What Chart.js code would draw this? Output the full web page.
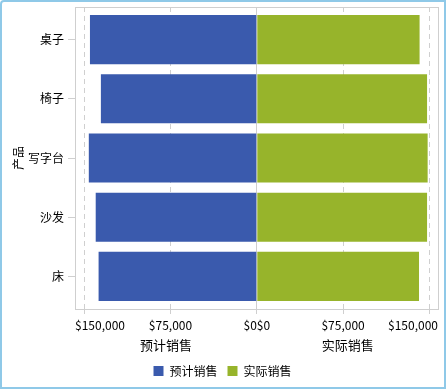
<!DOCTYPE html>
<html lang="zh">
<head>
<meta charset="utf-8">
<title>产品销售</title>
<script src="https://cdn.jsdelivr.net/npm/chart.js@4"></script>
<style>
  html, body { margin: 0; padding: 0; background: #fff; }
  #frame {
    width: 446px;
    height: 389px;
    box-sizing: border-box;
    border: 2px solid #8fc9e8;
    border-radius: 4px 0 0 0;
    background: #fff;
  }
  canvas { display: block; }
</style>
</head>
<body>
<div id="frame">
  <canvas id="chart" width="442" height="385"></canvas>
</div>
<script>
// Dados
const categories = ["桌子", "椅子", "写字台", "沙发", "床"];
const predicted = [145000, 135500, 146000, 140000, 137500]; // 预计销售
const actual = [141500, 148000, 148500, 148000, 141000]; // 实际销售
const tickValues = [-150000, -75000, 0, 75000, 150000];
const halfTitles = ["预计销售", "实际销售"];
const seriesNames = ["预计销售", "实际销售"];

const axisMin = -158000;
const axisMax = 157500;
const font = "'Noto Sans CJK SC', 'Noto Sans', sans-serif";
const gridGray = "#cfcfcf";

function money(v) {
  if (v === 0) return "$0$0";
  return "$" + Math.abs(v).toLocaleString("en-US");
}

// valor de tick mais proximo (rotulos das pontas ficam nas bordas)
function nearestTick(v) {
  return tickValues.reduce((a, b) => (Math.abs(b - v) < Math.abs(a - v) ? b : a));
}

// eixo sem padding lateral, altura fixa
function fixHeight(h) {
  return (s) => {
    s.height = h;
    s.paddingLeft = 0;
    s.paddingRight = 0;
  };
}

// Moldura da área do gráfico
const plotFrame = {
  id: "plotFrame",
  afterLayout(chart) {
    // pequena folga em cima/embaixo das categorias
    const y = chart.scales.y;
    y._startPixel += 3;
    y._endPixel -= 3;
    y._length -= 6;
  },
  beforeDatasetsDraw(chart) {
    const { ctx, chartArea: a } = chart;
    ctx.save();
    ctx.strokeStyle = gridGray;
    ctx.lineWidth = 1;
    ctx.strokeRect(
      Math.round(a.left) + 0.5,
      Math.round(a.top) + 0.5,
      Math.round(a.right - a.left),
      Math.round(a.bottom - a.top)
    );
    ctx.restore();
  },
};

new Chart(document.getElementById("chart"), {
  type: "bar",
  data: {
    labels: categories,
    datasets: [
      {
        label: seriesNames[0],
        data: predicted.map((v) => -v),
        backgroundColor: "#3a5aad",
        borderWidth: 0,
        xAxisID: "x",
      },
      {
        label: seriesNames[1],
        data: actual,
        backgroundColor: "#97b42b",
        borderWidth: 0,
        xAxisID: "x",
      },
    ],
  },
  options: {
    indexAxis: "y",
    responsive: false,
    animation: false,
    devicePixelRatio: 1,
    layout: { padding: { left: 5, top: 5, right: 6, bottom: 0 } },
    datasets: { bar: { barPercentage: 1, categoryPercentage: 0.83 } },
    plugins: {
      tooltip: { enabled: false },
      legend: {
        position: "bottom",
        labels: {
          boxWidth: 10,
          boxHeight: 10,
          padding: 10,
          color: "#000",
          font: { family: font, size: 12 },
        },
      },
    },
    scales: {
      y: {
        type: "category",
        stacked: true,
        afterFit: (s) => {
          s.width = 68;
          s.paddingTop = 0;
          s.paddingBottom = 0;
        },
        title: {
          display: true,
          text: "产品",
          color: "#000",
          font: { family: font, size: 12 },
        },
        ticks: { color: "#000", padding: 4, font: { family: font, size: 12 } },
        grid: {
          offset: false,
          drawOnChartArea: false,
          tickLength: 7,
          tickColor: gridGray,
        },
        border: { color: gridGray },
      },
      // grade tracejada + marcas dos ticks
      x: {
        type: "linear",
        stacked: true,
        min: axisMin,
        max: axisMax,
        afterBuildTicks: (s) => (s.ticks = tickValues.map((v) => ({ value: v }))),
        afterFit: fixHeight(0),
        ticks: { display: false },
        grid: {
          color: (c) => (c.tick && c.tick.value === 0 ? "rgba(0,0,0,0)" : gridGray),
          tickColor: gridGray,
          tickLength: 5,
        },
        border: { color: gridGray, dash: [5, 4] },
      },
      // rotulos em dolar
      xl: {
        type: "linear",
        position: "bottom",
        min: axisMin,
        max: axisMax,
        afterBuildTicks: (s) =>
          (s.ticks = [axisMin, -75000, 0, 75000, axisMax].map((v) => ({ value: v }))),
        afterFit: fixHeight(23),
        ticks: {
          align: "inner",
          padding: 9,
          color: "#000",
          maxRotation: 0,
          autoSkip: false,
          font: { family: font, size: 12 },
          callback: (v) => money(nearestTick(v)),
        },
        grid: { display: false, drawTicks: false },
        border: { display: false },
      },
      // titulos das duas metades
      xt: {
        type: "linear",
        position: "bottom",
        min: axisMin,
        max: axisMax,
        afterBuildTicks: (s) => (s.ticks = [{ value: -79000 }, { value: 79000 }]),
        afterFit: fixHeight(23),
        ticks: {
          padding: 5,
          color: "#000",
          maxRotation: 0,
          autoSkip: false,
          font: { family: font, size: 13 },
          callback: (v) => (v < 0 ? halfTitles[0] : halfTitles[1]),
        },
        grid: { display: false, drawTicks: false },
        border: { display: false },
      },
      // linha do zero por cima das barras
      x0: {
        type: "linear",
        position: "bottom",
        min: axisMin,
        max: axisMax,
        z: 1,
        afterBuildTicks: (s) => (s.ticks = [{ value: 0 }]),
        afterFit: fixHeight(0),
        ticks: { display: false },
        grid: { color: gridGray, drawTicks: false },
        border: { display: false },
      },
    },
  },
  plugins: [plotFrame],
});
</script>
</body>
</html>
